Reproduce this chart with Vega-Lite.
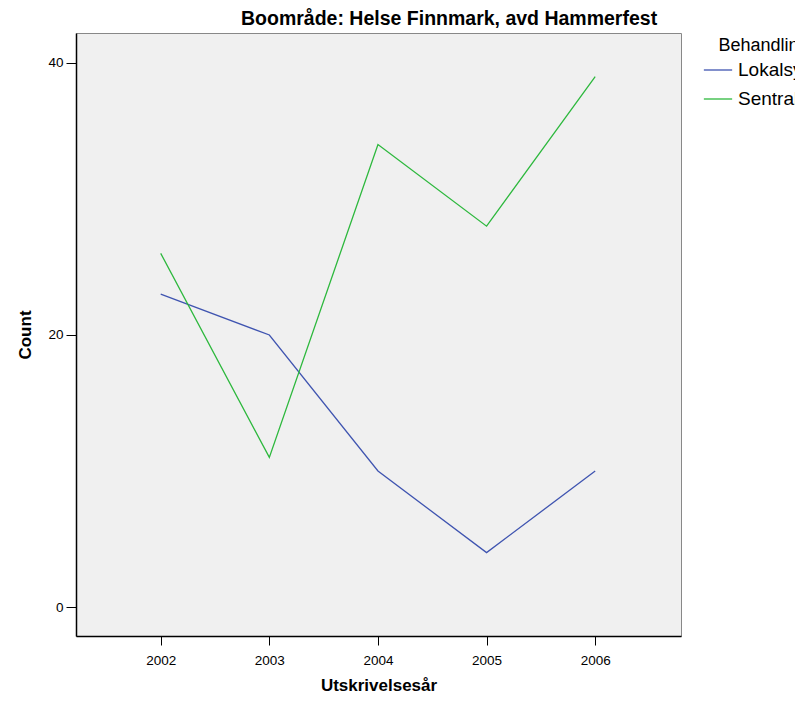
{
  "$schema": "https://vega.github.io/schema/vega-lite/v6.json",
  "autosize": {"type": "none"},
  "width": 605,
  "height": 603,
  "padding": {"left": 76, "top": 33, "right": 114, "bottom": 68},
  "background": "white",
  "title": {
    "text": "Boområde: Helse Finnmark, avd Hammerfest",
    "anchor": "start",
    "frame": "group",
    "dx": 165,
    "offset": 4,
    "font": "Liberation Sans",
    "fontSize": 19.5,
    "fontWeight": "bold",
    "color": "black"
  },
  "config": {
    "view": {"fill": "#F0F0F0", "stroke": "#888888", "strokeWidth": 1},
    "font": "Liberation Sans"
  },
  "data": {
    "values": [
      {"year": 2002, "type": "Lokalsykehus", "count": 23},
      {"year": 2003, "type": "Lokalsykehus", "count": 20},
      {"year": 2004, "type": "Lokalsykehus", "count": 10},
      {"year": 2005, "type": "Lokalsykehus", "count": 4},
      {"year": 2006, "type": "Lokalsykehus", "count": 10},
      {"year": 2002, "type": "Sentralsykehus", "count": 26},
      {"year": 2003, "type": "Sentralsykehus", "count": 11},
      {"year": 2004, "type": "Sentralsykehus", "count": 34},
      {"year": 2005, "type": "Sentralsykehus", "count": 28},
      {"year": 2006, "type": "Sentralsykehus", "count": 39}
    ]
  },
  "mark": {"type": "line", "strokeWidth": 1.3, "clip": true},
  "encoding": {
    "x": {
      "field": "year",
      "type": "quantitative",
      "scale": {"domain": [2001.22, 2006.79], "nice": false, "zero": false},
      "axis": {
        "values": [2002, 2003, 2004, 2005, 2006],
        "format": "d",
        "title": "Utskrivelsesår",
        "titleFontSize": 17,
        "titleFontWeight": "bold",
        "titleColor": "black",
        "titlePadding": 11,
        "labelFontSize": 13.5,
        "labelColor": "black",
        "labelPadding": 8,
        "tickSize": 9,
        "tickColor": "black",
        "domainColor": "black",
        "domainWidth": 1.5,
        "grid": false
      }
    },
    "y": {
      "field": "count",
      "type": "quantitative",
      "scale": {"domain": [-2.13, 42.2], "nice": false, "zero": false},
      "axis": {
        "values": [0, 20, 40],
        "title": "Count",
        "titleFontSize": 17,
        "titleFontWeight": "bold",
        "titleColor": "black",
        "titlePadding": 13,
        "labelFontSize": 13.5,
        "labelColor": "black",
        "labelPadding": 3,
        "tickSize": 10,
        "tickColor": "black",
        "domainColor": "black",
        "domainWidth": 1.5,
        "grid": false
      }
    },
    "color": {
      "field": "type",
      "type": "nominal",
      "scale": {"domain": ["Lokalsykehus", "Sentralsykehus"], "range": ["#3F54B0", "#2DB83D"]},
      "legend": {
        "title": "Behandlingssted",
        "orient": "right",
        "offset": 18,
        "titleFontSize": 18,
        "titleFontWeight": "normal",
        "titleColor": "black",
        "titleAnchor": "middle",
        "labelFontSize": 19,
        "labelColor": "black",
        "labelOffset": 5,
        "symbolType": "stroke",
        "symbolSize": 800,
        "symbolStrokeWidth": 1.3,
        "rowPadding": 4,
        "titlePadding": 0,
        "padding": 4
      }
    }
  }
}
